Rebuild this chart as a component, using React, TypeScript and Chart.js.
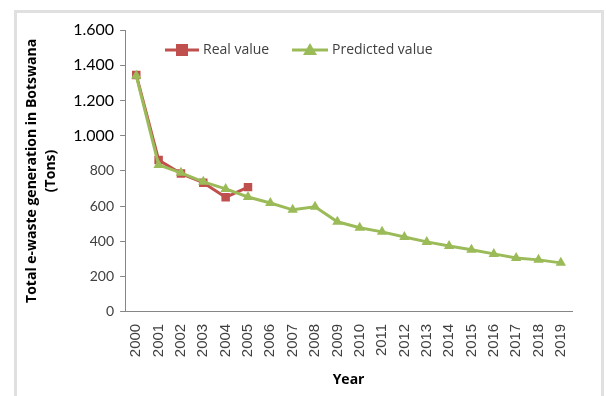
import React, { useEffect, useRef } from "react";
import { Chart, registerables } from "chart.js";

Chart.register(...registerables);

const years = ["2000","2001","2002","2003","2004","2005","2006","2007","2008","2009","2010","2011","2012","2013","2014","2015","2016","2017","2018","2019"];
const realValues: (number | null)[] = [1345, 862, 785, 733, 650, 708, null, null, null, null, null, null, null, null, null, null, null, null, null, null];
const predictedValues = [1340, 834, 789, 738, 698, 652, 618, 579, 596, 511, 477, 454, 425, 397, 374, 352, 329, 306, 295, 278];
const yTicks = [0, 200, 400, 600, 800, 1000, 1200, 1400, 1600];

const RED = "#C0504D";
const GREEN = "#9BBB59";
const FONT = "Lato, 'Open Sans', sans-serif";
const TFONT = "'Open Sans', Lato, sans-serif";

const legendPlugin = {
  id: "inlineLegend",
  afterDraw(chart: any) {
    const ctx = chart.ctx;
    ctx.save();
    const y = 50;
    const items = [
      { label: "Real value", color: RED, x0: 165, x1: 199, shape: "rect" },
      { label: "Predicted value", color: GREEN, x0: 292, x1: 328, shape: "tri" },
    ];
    for (const it of items) {
      ctx.strokeStyle = it.color;
      ctx.lineWidth = 3;
      ctx.beginPath();
      ctx.moveTo(it.x0, y);
      ctx.lineTo(it.x1, y);
      ctx.stroke();
      ctx.fillStyle = it.color;
      const cx = (it.x0 + it.x1) / 2;
      if (it.shape === "rect") {
        ctx.fillRect(cx - 6, y - 6, 12, 12);
      } else {
        ctx.beginPath();
        ctx.moveTo(cx, y - 7);
        ctx.lineTo(cx + 7, y + 5);
        ctx.lineTo(cx - 7, y + 5);
        ctx.closePath();
        ctx.fill();
      }
      ctx.fillStyle = "#404040";
      ctx.font = `14px ${TFONT}`;
      ctx.textBaseline = "middle";
      ctx.textAlign = "left";
      ctx.fillText(it.label, it.x1 + 4, y);
    }
    ctx.restore();
  },
};

export default function App() {
  const ref = useRef<HTMLCanvasElement>(null);
  useEffect(() => {
    if (!ref.current) return;
    const chart = new Chart(ref.current, {
      type: "line",
      data: {
        labels: years,
        datasets: [
          {
            label: "Real value",
            data: realValues,
            borderColor: RED,
            backgroundColor: RED,
            borderWidth: 3,
            pointStyle: "rect",
            pointRadius: 6,
            pointBorderWidth: 0,
            spanGaps: false,
            order: 1,
          },
          {
            label: "Predicted value",
            data: predictedValues,
            borderColor: GREEN,
            backgroundColor: GREEN,
            borderWidth: 3,
            pointStyle: "triangle",
            pointRadius: 6,
            pointBorderWidth: 0,
            order: 0,
          },
        ],
      },
      plugins: [legendPlugin],
      options: {
        animation: false,
        responsive: false,
        layout: { padding: { left: 22, top: 30, right: 34, bottom: 8 } },
        plugins: { legend: { display: false }, tooltip: { enabled: false } },
        scales: {
          x: {
            offset: true,
            grid: { display: false },
            border: { display: true, color: "#868686", width: 1 },
            ticks: {
              maxRotation: 90,
              minRotation: 90,
              color: "#404040",
              font: { family: "'Liberation Sans', Arial, sans-serif", size: 15 },
              padding: 4,
            },
            title: {
              display: true,
              text: "Year",
              color: "#000",
              font: { family: TFONT, size: 14, weight: "bold" },
              padding: { top: 10, bottom: 0 },
            },
          },
          y: {
            min: 0,
            max: 1600,
            afterBuildTicks: (axis: any) => {
              axis.ticks = yTicks.map((v) => ({ value: v }));
            },
            grid: { drawOnChartArea: false, drawTicks: true, tickLength: 5, color: "#868686" },
            border: { display: true, color: "#868686", width: 1 },
            ticks: {
              color: (c: any) => (c.tick && c.tick.value >= 1000 ? "#000" : "#404040"),
              font: (c: any) => ({ family: FONT, size: c.tick && c.tick.value >= 1000 ? 16 : 14 }),
              padding: 6,
              callback: (v: any) => {
                const n = Number(v);
                return n >= 1000 ? `${Math.floor(n / 1000)}.${String(n % 1000).padStart(3, "0")}` : String(n);
              },
            },
            title: {
              display: true,
              text: ["Total e-waste generation in Botswana", "(Tons)"],
              color: "#000",
              font: { family: TFONT, size: 14, weight: "bold", lineHeight: 1.4 },
              padding: { top: 0, bottom: 6 },
            },
          },
        },
      },
    } as any);
    return () => chart.destroy();
  }, []);
  return (
    <div style={{ position: "fixed", left: 0, top: 0, width: 606, height: 396, background: "#fff" }}>
      <div style={{ position: "absolute", left: 14, top: 10, width: 590, height: 400, border: "3px solid #e0e0e0", boxSizing: "border-box" }} />
      <canvas ref={ref} width={606} height={396} style={{ position: "absolute", left: 0, top: 0 }} />
    </div>
  );
}
